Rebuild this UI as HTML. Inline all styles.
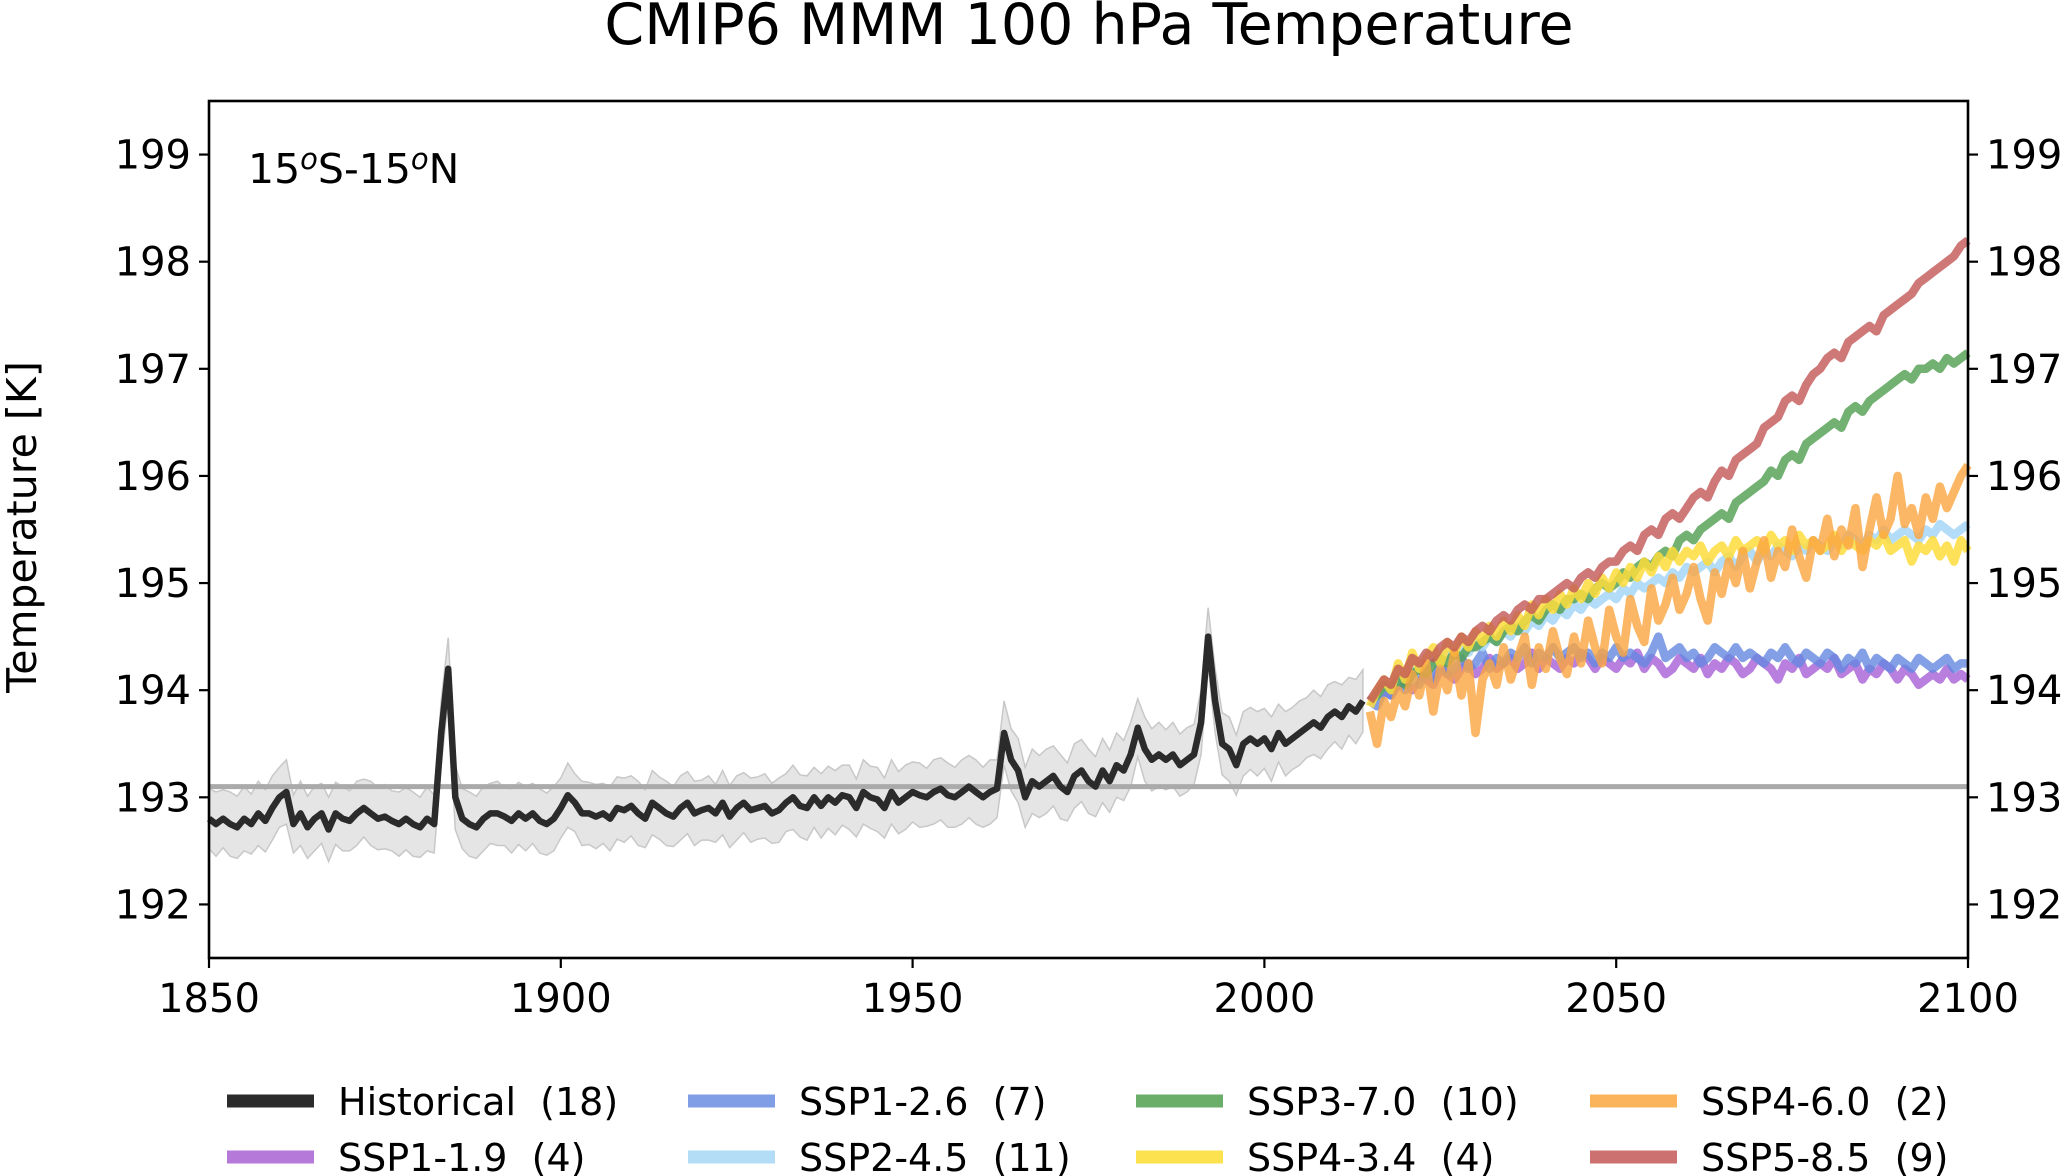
<!DOCTYPE html>
<html><head><meta charset="utf-8">
<style>
html,body{margin:0;padding:0;background:#fff;}
svg{display:block;font-family:"DejaVu Sans","Liberation Sans",sans-serif;}
</style></head>
<body>
<svg id="chart" width="2067" height="1176" viewBox="0 0 2067 1176" xmlns="http://www.w3.org/2000/svg">
<text x="1089" y="44" font-size="57" text-anchor="middle" fill="#000">CMIP6 MMM 100 hPa Temperature</text>
<text x="0" y="0" font-size="41" text-anchor="middle" fill="#000" transform="translate(36,527) rotate(-90)">Temperature [K]</text>
<g id="plot"></g>
<text x="248" y="183" font-size="41" fill="#000">15<tspan dy="-14" font-size="29" font-style="italic">o</tspan><tspan dy="14">S-15</tspan><tspan dy="-14" font-size="29" font-style="italic">o</tspan><tspan dy="14">N</tspan></text>
<g id="legend"></g>
</svg>
<script>
const xTicks=[1850,1900,1950,2000,2050,2100];
const yTicks=[192,193,194,195,196,197,198,199];
const refLevel=193.1;
const histYears0=1850;
const histMean=[192.8,192.75,192.8,192.75,192.72,192.8,192.75,192.85,192.78,192.9,193.0,193.05,192.75,192.85,192.72,192.8,192.85,192.7,192.85,192.8,192.78,192.85,192.9,192.85,192.8,192.82,192.78,192.75,192.8,192.75,192.72,192.8,192.75,193.6,194.2,193.0,192.8,192.75,192.72,192.8,192.85,192.85,192.82,192.78,192.85,192.8,192.85,192.78,192.75,192.8,192.9,193.02,192.95,192.85,192.85,192.82,192.85,192.8,192.9,192.88,192.92,192.85,192.8,192.95,192.9,192.85,192.82,192.9,192.95,192.85,192.88,192.9,192.85,192.95,192.82,192.9,192.95,192.88,192.9,192.92,192.85,192.88,192.95,193.0,192.92,192.9,193.0,192.92,193.0,192.95,193.02,193.0,192.9,193.05,193.0,192.98,192.9,193.05,192.95,193.0,193.05,193.02,193.0,193.05,193.08,193.02,193.0,193.05,193.1,193.05,193.0,193.05,193.08,193.6,193.35,193.25,193.0,193.15,193.1,193.15,193.2,193.1,193.05,193.2,193.25,193.15,193.1,193.25,193.15,193.3,193.25,193.4,193.65,193.45,193.35,193.4,193.35,193.4,193.3,193.35,193.4,193.7,194.5,193.9,193.5,193.45,193.3,193.5,193.55,193.5,193.55,193.45,193.6,193.5,193.55,193.6,193.65,193.7,193.65,193.75,193.8,193.75,193.85,193.8,193.9];
const histSpread=[0.28,0.3,0.27,0.3,0.29,0.3,0.28,0.3,0.29,0.3];
const scenYears0=2015;
const ssp119=[193.9,193.95,194.0,193.95,194.05,194.1,194.0,194.15,194.1,194.05,194.2,194.15,194.1,194.2,194.25,194.15,194.2,194.3,194.2,194.25,194.3,194.2,194.25,194.35,194.2,194.3,194.25,194.2,194.3,194.25,194.35,194.3,194.2,194.3,194.25,194.2,194.3,194.25,194.35,194.2,194.3,194.25,194.15,194.2,194.3,194.25,194.2,194.3,194.15,194.25,194.2,194.3,194.25,194.15,194.2,194.3,194.25,194.2,194.1,194.25,194.2,194.3,194.15,194.2,194.25,194.2,194.3,194.15,194.2,194.25,194.1,194.2,194.15,194.25,194.2,194.1,194.2,194.15,194.05,194.1,194.15,194.1,194.2,194.1,194.15,194.1];
const ssp126=[193.9,193.85,194.0,193.95,194.1,194.0,194.15,194.05,194.2,194.1,194.25,194.15,194.2,194.3,194.2,194.25,194.35,194.2,194.3,194.25,194.35,194.3,194.4,194.25,194.35,194.3,194.4,194.3,194.35,194.4,194.3,194.35,194.25,194.35,194.3,194.4,194.3,194.35,194.3,194.25,194.35,194.5,194.3,194.35,194.4,194.3,194.35,194.25,194.3,194.4,194.35,194.3,194.4,194.3,194.35,194.3,194.25,194.35,194.3,194.4,194.3,194.25,194.35,194.3,194.25,194.35,194.3,194.2,194.3,194.25,194.35,194.2,194.3,194.25,194.2,194.3,194.25,194.2,194.3,194.25,194.2,194.25,194.3,194.2,194.25,194.25];
const ssp245=[193.9,193.95,194.05,194.0,194.1,194.15,194.1,194.25,194.2,194.3,194.25,194.35,194.3,194.4,194.35,194.45,194.4,194.5,194.45,194.55,194.5,194.6,194.55,194.65,194.6,194.7,194.65,194.75,194.7,194.8,194.75,194.85,194.8,194.85,194.9,194.85,194.95,194.9,195.0,194.95,195.0,195.05,195.0,195.1,195.05,195.15,195.1,195.15,195.2,195.1,195.2,195.25,195.15,195.25,195.3,195.2,195.3,195.25,195.35,195.3,195.25,195.35,195.3,195.4,195.35,195.3,195.4,195.35,195.45,195.4,195.35,195.45,195.4,195.5,195.4,195.45,195.5,195.45,195.4,195.5,195.45,195.55,195.5,195.45,195.5,195.55];
const ssp370=[193.9,193.95,194.05,194.0,194.1,194.05,194.15,194.2,194.15,194.25,194.3,194.25,194.35,194.3,194.4,194.4,194.45,194.5,194.45,194.55,194.6,194.55,194.65,194.7,194.65,194.75,194.8,194.75,194.85,194.85,194.9,194.85,194.95,195.0,194.95,195.0,195.1,195.05,195.15,195.2,195.15,195.25,195.3,195.25,195.4,195.45,195.4,195.5,195.55,195.6,195.65,195.6,195.75,195.8,195.85,195.9,195.95,196.05,196.0,196.15,196.2,196.15,196.3,196.35,196.4,196.45,196.5,196.45,196.6,196.65,196.6,196.7,196.75,196.8,196.85,196.9,196.95,196.9,197.0,197.0,197.05,197.0,197.1,197.05,197.1,197.15];
const ssp434=[193.85,194.0,194.1,194.0,194.25,194.1,194.35,194.2,194.3,194.4,194.25,194.45,194.35,194.5,194.4,194.55,194.45,194.6,194.5,194.65,194.55,194.7,194.6,194.8,194.7,194.85,194.75,194.9,194.8,194.95,194.85,195.0,194.9,195.05,194.95,195.1,195.0,195.15,195.05,195.2,195.1,195.25,195.15,195.3,195.2,195.3,195.25,195.35,195.2,195.3,195.35,195.25,195.4,195.3,195.35,195.4,195.3,195.45,195.35,195.4,195.3,195.45,195.35,195.4,195.3,195.35,195.45,195.3,195.4,195.35,195.3,195.4,195.35,195.45,195.3,195.35,195.4,195.2,195.35,195.3,195.4,195.25,195.35,195.2,195.4,195.3];
const ssp460=[193.8,193.5,193.9,193.75,194.0,193.85,194.15,193.95,194.25,193.8,194.2,194.0,194.35,193.95,194.25,193.6,194.1,194.25,194.05,194.4,194.1,194.3,194.5,194.05,194.4,194.2,194.55,194.3,194.15,194.5,194.25,194.65,194.4,194.25,194.75,194.5,194.35,194.85,194.6,194.45,194.95,194.65,194.8,195.05,194.75,194.9,195.15,194.85,194.65,195.1,194.9,195.2,195.0,195.3,194.95,195.2,195.4,195.05,195.3,195.15,195.5,195.25,195.05,195.4,195.3,195.6,195.25,195.5,195.35,195.7,195.15,195.5,195.8,195.45,195.6,196.0,195.55,195.7,195.45,195.8,195.6,195.9,195.7,195.85,196.0,196.1];
const ssp585=[193.9,194.0,194.1,194.05,194.2,194.15,194.3,194.25,194.35,194.3,194.4,194.45,194.4,194.5,194.45,194.55,194.6,194.55,194.65,194.7,194.65,194.75,194.8,194.75,194.85,194.85,194.9,194.95,195.0,194.95,195.05,195.1,195.05,195.15,195.2,195.2,195.3,195.35,195.3,195.45,195.5,195.45,195.6,195.65,195.6,195.7,195.8,195.85,195.8,195.95,196.05,196.0,196.15,196.2,196.25,196.3,196.45,196.5,196.55,196.7,196.75,196.7,196.85,196.95,197.0,197.1,197.15,197.1,197.25,197.3,197.35,197.4,197.35,197.5,197.55,197.6,197.65,197.7,197.8,197.85,197.9,197.95,198.0,198.05,198.15,198.2];
const legendLabels=["Historical  (18)","SSP1-1.9  (4)","SSP1-2.6  (7)","SSP2-4.5  (11)","SSP3-7.0  (10)","SSP4-3.4  (4)","SSP4-6.0  (2)","SSP5-8.5  (9)"];

const NS="http://www.w3.org/2000/svg";
const L=209,R=1968,T=101,B=958;
const X0=1850,X1=2100,Y0=191.5,Y1=199.5;
function sx(v){return L+(v-X0)/(X1-X0)*(R-L);}
function sy(v){return B-(v-Y0)/(Y1-Y0)*(B-T);}
function mk(tag,attrs,parent){const e=document.createElementNS(NS,tag);for(const k in attrs)e.setAttribute(k,attrs[k]);parent.appendChild(e);return e;}
const plot=document.getElementById('plot');

let up=[],dn=[];
histMean.forEach((v,i)=>{const s=histSpread[i%histSpread.length];up.push(sx(histYears0+i)+','+sy(v+s));dn.unshift(sx(histYears0+i)+','+sy(v-s));});
const band=mk('polygon',{points:up.concat(dn).join(' '),fill:'#d0d0d0','fill-opacity':'0.55',stroke:'#c8c8c8','stroke-width':'1.5'},plot);



const ref=mk('line',{x1:L,x2:R,y1:sy(refLevel),y2:sy(refLevel),stroke:'#aaaaaa','stroke-width':'5'},plot);



function series(arr,y0,color,w,op,name){
  const pts=arr.map((v,i)=>sx(y0+i).toFixed(1)+','+sy(v).toFixed(1)).join(' ');
  const p=mk('polyline',{points:pts,fill:'none',stroke:color,'stroke-width':w,'stroke-opacity':op,'stroke-linejoin':'round'},plot);
  
  
}
series(histMean,histYears0,'#2b2b2b',6.5,1,'historical-line');
series(ssp119,scenYears0,'#a85fd6',8.5,0.8,'ssp119-line');
series(ssp126,scenYears0,'#6487e0',8.5,0.8,'ssp126-line');
series(ssp245,scenYears0,'#a5d6f7',8.5,0.85,'ssp245-line');
series(ssp370,scenYears0,'#4f9e4f',8.5,0.8,'ssp370-line');
series(ssp434,scenYears0,'#fddc3c',8.5,0.85,'ssp434-line');
series(ssp460,scenYears0,'#fba540',8.5,0.8,'ssp460-line');
series(ssp585,scenYears0,'#c25656',8.5,0.8,'ssp585-line');

const fr=mk('rect',{x:L,y:T,width:R-L,height:B-T,fill:'none',stroke:'#000','stroke-width':'2.6'},plot);



xTicks.forEach(t=>{
  const x=sx(t);
  const tk=mk('line',{x1:x,x2:x,y1:B,y2:B+10,stroke:'#000','stroke-width':'2.2'},plot);
  
  
  const tx=mk('text',{x:x,y:B+54,'font-size':'40','text-anchor':'middle',fill:'#000'},plot);
  tx.textContent=t;
  
  
});
yTicks.forEach(t=>{
  const y=sy(t);
  const a=mk('line',{x1:L-10,x2:L,y1:y,y2:y,stroke:'#000','stroke-width':'2.2'},plot);
  
  
  const b=mk('line',{x1:R,x2:R+10,y1:y,y2:y,stroke:'#000','stroke-width':'2.2'},plot);
  
  
  const l=mk('text',{x:L-18,y:y+14,'font-size':'40','text-anchor':'end',fill:'#000'},plot);
  l.textContent=t;
  
  
  const r=mk('text',{x:R+18,y:y+14,'font-size':'40','text-anchor':'start',fill:'#000'},plot);
  r.textContent=t;
  
  
});

const leg=document.getElementById('legend');
const legColors=['#2b2b2b','#b57ad9','#7f9ee6','#b3dcf7','#6aae6a','#fde24f','#fbb45c','#cc7070'];
const colX=[227,688,1136,1590];
const rowY=[1101,1157];
legendLabels.forEach((lab,i)=>{
  const c=Math.floor(i/2),r=i%2;
  const x=colX[c],y=rowY[r];
  const ln=mk('line',{x1:x,x2:x+87,y1:y,y2:y,stroke:legColors[i],'stroke-width':'13'},leg);
  
  
  const t=mk('text',{x:x+111,y:y+14,'font-size':'38',fill:'#000'},leg);
  t.setAttribute('style','white-space:pre');
  t.textContent=lab;
  
  
});
</script>
</body></html>
